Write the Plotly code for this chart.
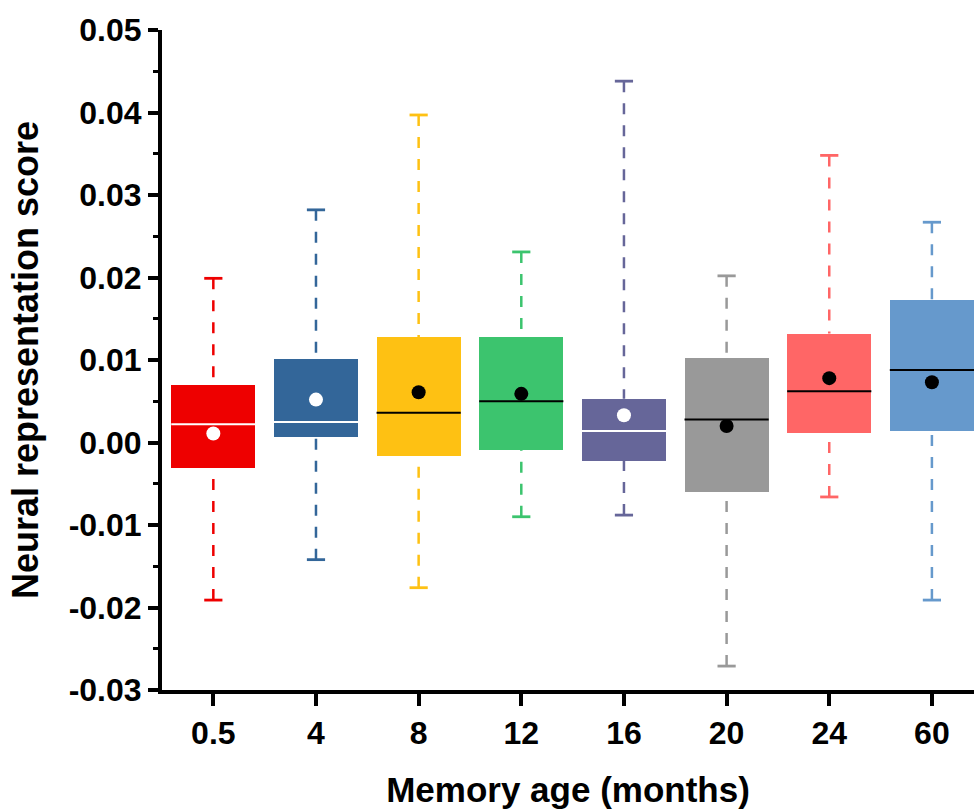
import plotly.graph_objects as go

categories = ["0.5", "4", "8", "12", "16", "20", "24", "60"]
q1 = [-0.0031, 0.0007, -0.0016, -0.0009, -0.0022, -0.0060, 0.0011, 0.0014]
q3 = [0.0070, 0.0101, 0.0128, 0.0128, 0.0053, 0.0102, 0.0132, 0.0173]
median = [0.0022, 0.0025, 0.0036, 0.0050, 0.0014, 0.0028, 0.0062, 0.0088]
mean = [0.0011, 0.0052, 0.0061, 0.0059, 0.0033, 0.0020, 0.0078, 0.0073]
lower = [-0.0191, -0.0142, -0.0176, -0.0090, -0.0088, -0.0271, -0.0066, -0.0191]
upper = [0.0199, 0.0282, 0.0397, 0.0231, 0.0438, 0.0202, 0.0348, 0.0267]

colors = ["#EE0000", "#336699", "#FEC113", "#3CC46E", "#666699", "#999999", "#FF6666", "#6699CC"]
inner_colors = ["white", "white", "black", "black", "white", "black", "black", "black"]

y_ticks = [-0.03, -0.02, -0.01, 0.00, 0.01, 0.02, 0.03, 0.04, 0.05]
y_ticklabels = ["-0.03", "-0.02", "-0.01", "0.00", "0.01", "0.02", "0.03", "0.04", "0.05"]

BOX_W = 0.82
FONT = "Arial, Liberation Sans, sans-serif"

fig = go.Figure()
idx = list(range(len(categories)))

# whiskers (dashed)
for i in idx:
    fig.add_trace(go.Scatter(
        x=[i, i, None, i, i],
        y=[upper[i], q3[i], None, lower[i], q1[i]],
        mode="lines",
        line=dict(color=colors[i], width=2.5, dash="11px,11px"),
        hoverinfo="skip", showlegend=False))
    # caps
    fig.add_trace(go.Scatter(
        x=[i, i], y=[upper[i], lower[i]], mode="markers",
        marker=dict(symbol="line-ew", size=13, line=dict(color=colors[i], width=2.8)),
        hoverinfo="skip", showlegend=False))

# boxes
fig.add_trace(go.Bar(
    x=idx, y=[q3[i] - q1[i] for i in idx], base=q1, width=BOX_W,
    marker=dict(color=colors, line=dict(width=0)),
    hoverinfo="skip", showlegend=False))

# medians
for i in idx:
    fig.add_trace(go.Scatter(
        x=[i - BOX_W / 2, i + BOX_W / 2], y=[median[i], median[i]],
        mode="lines", line=dict(color=inner_colors[i], width=2),
        hoverinfo="skip", showlegend=False))

# means
fig.add_trace(go.Scatter(
    x=idx, y=mean, mode="markers",
    marker=dict(symbol="circle", size=14, color=inner_colors, line=dict(width=0)),
    hoverinfo="skip", showlegend=False))

fig.update_layout(
    width=974, height=812,
    margin=dict(l=162, r=0, t=30, b=122),
    plot_bgcolor="white", paper_bgcolor="white",
    font=dict(family=FONT, color="black"),
    bargap=0,
)

fig.update_xaxes(
    range=[-0.5, 7.41],
    tickmode="array", tickvals=idx, ticktext=categories,
    showline=True, linecolor="black", linewidth=4,
    ticks="outside", ticklen=12, tickwidth=4, tickcolor="black",
    tickfont=dict(family=FONT, size=32, weight="bold"),
    showgrid=False, zeroline=False,
    title=dict(text="Memory age (months)", font=dict(family=FONT, size=35, weight="bold"), standoff=28),
)
fig.update_yaxes(
    range=[-0.03, 0.05],
    tickmode="array", tickvals=y_ticks, ticktext=y_ticklabels,
    showline=True, linecolor="black", linewidth=4,
    ticks="outside", ticklen=10, tickwidth=4, tickcolor="black",
    minor=dict(tickmode="linear", tick0=0, dtick=0.005, ticks="outside", ticklen=5, tickwidth=3, tickcolor="black"),
    tickfont=dict(family=FONT, size=32, weight="bold"),
    showgrid=False, zeroline=False,
    title=dict(text="Neural representation score", font=dict(family=FONT, size=36, weight="bold"), standoff=20),
)

fig.write_html("out.html")
